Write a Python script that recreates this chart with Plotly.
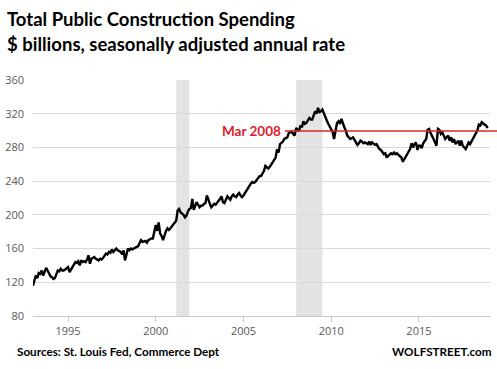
import plotly.graph_objects as go
import pandas as pd

# ---- data (monthly, $ billions SAAR), Jan 1993 .. Dec 2018 ----
years = list(range(1993, 2019))
v1993 = [116, 121, 128, 125, 131, 130, 134, 128, 133, 137, 134, 130]
v1994 = [127, 126, 124, 125, 130, 134, 133, 136, 134, 134, 135, 136]
v1995 = [138, 132, 135, 138, 141, 144, 143, 145, 140, 146, 144, 145]
v1996 = [144, 147, 152, 142, 148, 149, 150, 148, 147, 146, 148, 147]
v1997 = [149, 152, 154, 153, 156, 155, 159, 156, 158, 160, 158, 157]
v1998 = [156, 153, 158, 146, 152, 160, 158, 160, 159, 160, 161, 162]
v1999 = [163, 167, 170, 168, 169, 169, 167, 170, 171, 172, 172, 179]
v2000 = [188, 181, 191, 178, 175, 170, 176, 181, 184, 182, 184, 186]
v2001 = [188, 190, 193, 205, 207, 203, 202, 200, 197, 199, 204, 207]
v2002 = [208, 219, 206, 211, 215, 212, 209, 211, 211, 213, 214, 223]
v2003 = [217, 213, 209, 211, 213, 212, 214, 216, 219, 222, 215, 214]
v2004 = [218, 222, 220, 218, 222, 224, 222, 221, 224, 226, 223, 221]
v2005 = [223, 226, 229, 231, 235, 237, 239, 238, 239, 241, 243, 246]
v2006 = [246, 249, 252, 258, 256, 255, 257, 260, 262, 265, 268, 278]
v2007 = [274, 284, 285, 287, 290, 291, 292, 297, 298, 299, 296, 294]
v2008 = [303, 301, 299.5, 306, 304, 311, 308, 309, 312, 315, 313, 313]
v2009 = [318, 323, 320, 327, 322, 323, 325, 320, 316, 312, 308, 304]
v2010 = [300, 298, 290, 302, 309, 311, 308, 314, 308, 304, 300, 294]
v2011 = [292, 290, 291, 292, 289, 286, 283, 285, 288, 287, 285, 286]
v2012 = [285, 284, 287, 283, 286, 284, 283, 284, 281, 278, 277, 275]
v2013 = [272, 273, 268, 270, 271, 273, 272, 274, 272, 273, 271, 270]
v2014 = [268, 263, 266, 268, 272, 274, 278, 285, 280, 284, 286, 277]
v2015 = [282, 282, 279, 285, 288, 290, 301, 302, 297, 294, 290, 286]
v2016 = [282, 302, 301, 296, 298, 294, 290, 292, 294, 288, 292, 286]
v2017 = [290, 284, 286, 288, 282, 288, 282, 280, 278, 282, 286, 284]
v2018 = [287, 290, 293, 296, 300, 307, 306, 310, 308, 307, 306, 303]

yearly = [v1993, v1994, v1995, v1996, v1997, v1998, v1999, v2000, v2001,
          v2002, v2003, v2004, v2005, v2006, v2007, v2008, v2009, v2010,
          v2011, v2012, v2013, v2014, v2015, v2016, v2017, v2018]
values = [v for yr in yearly for v in yr]
dates = pd.date_range("1993-01-01", periods=len(values), freq="MS")

recession_start = ["2001-03-01", "2008-01-01"]
recession_end = ["2001-11-30", "2009-06-30"]

ref_date = "2008-03-01"
ref_label = "Mar 2008"
ref_value = values[list(dates).index(pd.Timestamp(ref_date))]

y_ticks = [80, 120, 160, 200, 240, 280, 320, 360]
x_tick_years = ["1995", "2000", "2005", "2010", "2015"]

title1 = "Total Public Construction Spending"
title2 = "$ billions, seasonally adjusted annual rate"
source = "Sources: St. Louis Fed, Commerce Dept"
brand = "WOLFSTREET.com"

# ---- layout geometry ----
W, H = 497, 369
L, R, T, B = 33, 7, 80, 53
pw, ph = W - L - R, H - T - B


def px(xp):
    return (xp - L) / pw


def py(yp):
    return 1 - (yp - T) / ph


fig = go.Figure()
fig.add_trace(go.Scatter(x=dates, y=values, mode="lines",
                         line=dict(color="#000000", width=2.4),
                         hoverinfo="skip", showlegend=False))

shapes = []
for s, e in zip(recession_start, recession_end):
    shapes.append(dict(type="rect", xref="x", yref="paper", x0=s, x1=e,
                       y0=0, y1=1, fillcolor="#e3e3e3", line=dict(width=0),
                       layer="below"))
shapes.append(dict(type="line", xref="paper", yref="y", x0=px(285), x1=px(W + 2),
                   y0=ref_value, y1=ref_value,
                   line=dict(color="#e0202a", width=1.4)))

title_font = "Lato, 'Open Sans', sans-serif"
annotations = [
    dict(text=title1, x=px(5), y=py(19), xref="paper", yref="paper",
         xanchor="left", yanchor="middle", showarrow=False,
         font=dict(family=title_font, size=18.5, color="#000000", weight="bold")),
    dict(text=title2, x=px(5), y=py(44), xref="paper", yref="paper",
         xanchor="left", yanchor="middle", showarrow=False,
         font=dict(family=title_font, size=18.5, color="#000000", weight="bold")),
    dict(text=source, x=px(15), y=py(351), xref="paper", yref="paper",
         xanchor="left", yanchor="middle", showarrow=False,
         font=dict(family=title_font, size=11.7, color="#000000", weight="bold")),
    dict(text=brand, x=px(494), y=py(351), xref="paper", yref="paper",
         xanchor="right", yanchor="middle", showarrow=False,
         font=dict(family=title_font, size=11.7, color="#000000", weight="bold")),
    dict(text=ref_label, x=px(283), y=ref_value, xref="paper", yref="y",
         xanchor="right", yanchor="middle", showarrow=False,
         font=dict(family=title_font, size=13.5, color="#e0202a", weight="bold")),
]

fig.update_layout(
    width=W, height=H,
    margin=dict(l=L, r=R, t=T, b=B, pad=0, autoexpand=False),
    paper_bgcolor="#ffffff", plot_bgcolor="#ffffff",
    shapes=shapes, annotations=annotations,
    showlegend=False, hovermode=False,
    font=dict(family="'Open Sans', sans-serif", size=11, color="#595959"),
    xaxis=dict(
        type="date", range=["1993-01-01", "2019-01-20"], automargin=False,
        tickvals=[f"{y}-01-01" for y in x_tick_years], ticktext=x_tick_years,
        showgrid=False, zeroline=False,
        showline=True, linecolor="#c4c9d6", linewidth=1,
        ticks="outside", ticklen=5, tickcolor="#c4c9d6", tickwidth=1,
        tickfont=dict(size=11, color="#595959"),
    ),
    yaxis=dict(
        range=[80, 360], tickvals=y_ticks, automargin=False,
        showgrid=True, gridcolor="#d9d9d9", gridwidth=1,
        zeroline=False, showline=False, ticks="",
        ticklabelstandoff=8,
        tickfont=dict(size=11, color="#595959"),
    ),
)

fig.write_html("out.html", config={"displayModeBar": False, "staticPlot": True},
               post_script="document.body.style.margin='0';document.body.style.padding='0';")
